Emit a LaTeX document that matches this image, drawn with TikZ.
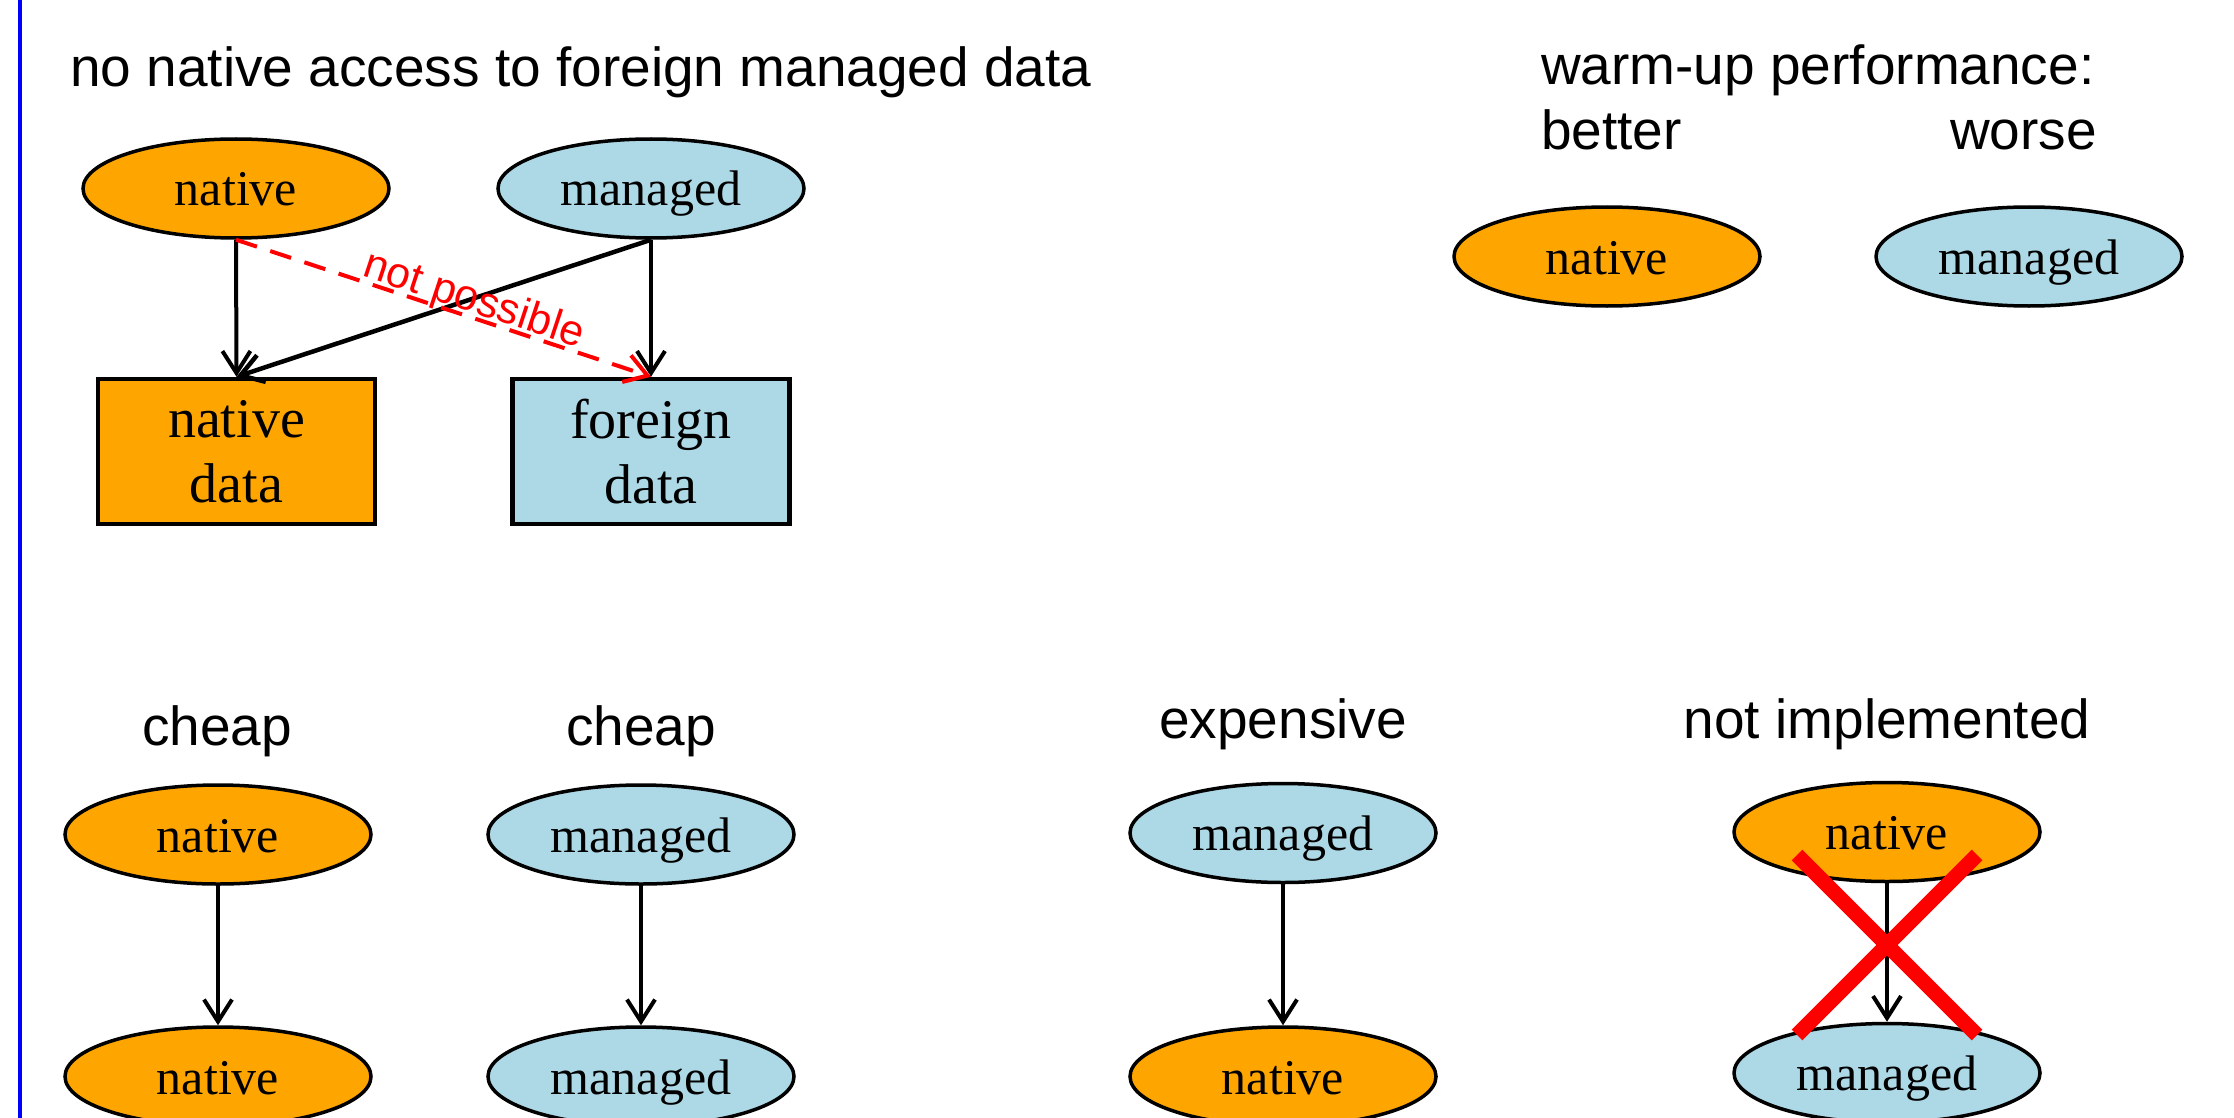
\documentclass[tikz,border=0pt]{standalone}
\usepackage{fontspec}
\setmainfont{Liberation Serif}
\setsansfont{Liberation Sans}
\usetikzlibrary{shapes.geometric,arrows.meta}
\definecolor{natfill}{RGB}{255,165,0}
\definecolor{manfill}{RGB}{173,216,230}
\definecolor{xred}{RGB}{255,0,0}
\definecolor{edgeblue}{RGB}{0,0,255}
\begin{document}
\begin{tikzpicture}[x=1pt,y=-1pt,
  hdr/.style={font=\sffamily\fontsize{55}{65}\selectfont, inner sep=0pt},
  ell/.style={ellipse, draw=black, line width=3.5pt, minimum width=306pt, minimum height=99pt,
    inner sep=0pt, font=\fontsize{50}{65}\selectfont, text height=35pt, text depth=0pt},
  natnode/.style={ell, fill=natfill},
  mannode/.style={ell, fill=manfill},
  databox/.style={rectangle, draw=black, line width=4.5pt, minimum width=277pt, minimum height=145pt,
    inner sep=0pt, align=center, font=\fontsize{56}{65}\selectfont},
  arr/.style={-{Straight Barb[length=22pt,width=28pt]}, line width=4pt},
  redarr/.style={arr, draw=xred, dash pattern=on 22pt off 14pt},
  cross/.style={draw=xred, line width=15pt},
  border/.style={draw=edgeblue, line width=4pt}
]
\fill[white] (0,0) rectangle (2234,1118);
\useasboundingbox (0,0) rectangle (2234,1118);
\clip (0,0) rectangle (2234,1118);

% left blue border
\coordinate (bt) at (20,0);
\coordinate (bb) at (20,1118);
\draw[border] (bt) -- (bb);

% ---- top left ----
\node[hdr, anchor=base west] (title) at (70,87) {no native access to foreign managed data};
\node[natnode] (n1) at (236,188.5) {native};
\node[mannode] (m1) at (651,188.5) {managed};
\node[databox, fill=natfill] (nd) at (236.5,451.5) {native\\data};
\node[databox, fill=manfill] (fd) at (651,451.5) {foreign\\data};
\draw[arr] (n1.south) -- (nd.north);
\draw[arr] (m1.south) -- (fd.north);
\draw[arr, line width=4.5pt] (m1.south) -- (nd.north);
\draw[redarr] (n1.south) -- node[pos=0.56, sloped, anchor=base, yshift=5pt, text=xred,
  font=\sffamily\fontsize{43}{50}\selectfont, inner sep=0pt] (np) {not possible} (fd.north);

% ---- top right ----
\node[hdr, anchor=base west] (warm) at (1541,85) {warm-up performance:};
\node[hdr, anchor=base west] (better) at (1541,150) {better};
\node[hdr, anchor=base east] (worse) at (2097,150) {worse};
\node[natnode] (n2) at (1607,256.5) {native};
\node[mannode] (m2) at (2029,256.5) {managed};

% ---- bottom ----
\node[hdr, anchor=base] (c1) at (217,745) {cheap};
\node[natnode] (a1) at (218,834.5) {native};
\node[natnode] (b1) at (218,1076.5) {native};
\draw[arr] (a1.south) -- (b1.north);

\node[hdr, anchor=base] (c2) at (641,745) {cheap};
\node[mannode] (a2) at (641,834.5) {managed};
\node[mannode] (b2) at (641,1076.5) {managed};
\draw[arr] (a2.south) -- (b2.north);

\node[hdr, anchor=base] (c3) at (1283,738) {expensive};
\node[mannode] (a3) at (1283,833) {managed};
\node[natnode] (b3) at (1283,1076.5) {native};
\draw[arr] (a3.south) -- (b3.north);

\node[hdr, anchor=base] (c4) at (1887,738) {not implemented};
\node[natnode] (a4) at (1887,832) {native};
\node[mannode] (b4) at (1887,1073) {managed};
\draw[arr] (a4.south) -- (b4.north);

% red cross
\coordinate (x1) at (1797,855);
\coordinate (x2) at (1977,1035);
\coordinate (x3) at (1977,855);
\coordinate (x4) at (1797,1035);
\draw[cross] (x1) -- (x2);
\draw[cross] (x3) -- (x4);
\end{tikzpicture}
\end{document}
